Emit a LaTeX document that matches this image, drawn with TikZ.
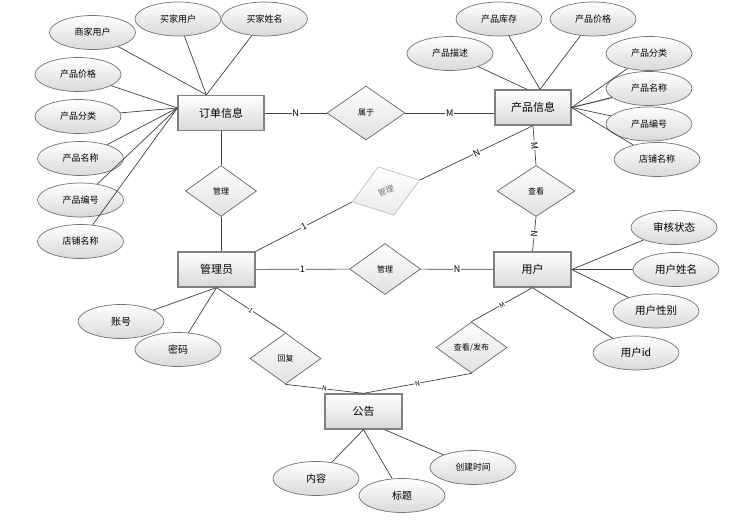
\documentclass[tikz,border=0pt]{standalone}
\usepackage{fontspec}
\setmainfont{Noto Sans CJK SC}
\usetikzlibrary{shapes.geometric,calc}

\begin{document}
\begin{tikzpicture}[x=1pt, y=-1pt,
	entity/.style={draw=black!50, line width=1.3pt, top color=white, bottom color=black!15,
		minimum width=77pt, minimum height=35pt, inner sep=0pt, font=\fontsize{11}{13}\selectfont},
	attr/.style={ellipse, draw=black!55, line width=0.7pt, top color=white, bottom color=black!15,
		minimum width=86pt, minimum height=34pt, inner sep=0pt, font=\fontsize{9}{11}\selectfont},
	rel/.style={diamond, draw=black!60, line width=0.7pt, top color=white, bottom color=black!12,
		minimum width=71pt, minimum height=51pt, inner sep=0pt, font=\fontsize{8}{10}\selectfont},
	link/.style={draw=black!75, line width=0.7pt},
	card/.style={fill=white, inner sep=0.8pt, font=\fontsize{9}{10}\selectfont},
	tinycard/.style={fill=white, inner sep=0.5pt, font=\fontsize{6.5}{7}\selectfont}]

\useasboundingbox (0,0) rectangle (750,522);

% entities
\node[entity, minimum width=86pt] (order) at (221,113) {订单信息};
\node[entity, minimum width=76pt] (product) at (533,107.5) {产品信息};
\node[entity] (admin) at (216.5,269.5) {管理员};
\node[entity] (user) at (532.5,269.5) {用户};
\node[entity] (notice) at (363.5,411.5) {公告};

% relations
\node[rel, minimum width=78pt, minimum height=54pt] (belong) at (366,113) {属于};
\node[rel] (manage) at (221,191) {管理};
\node[rel, minimum width=78pt] (view) at (536,191) {查看};
\node[rel] (manageuser) at (385,269) {管理};
\node[rel] (reply) at (285.5,358.5) {回复};
\node[rel] (publish) at (471.5,347.5) {查看/发布};
\node[rel, draw=black!25, top color=white, bottom color=black!8, text=black!55, rotate=18]
	(manageproduct) at (386,191) {管理};

% order attributes
\node[attr] (seller) at (92.5,32.5) {商家用户};
\node[attr] (buyer) at (178,19) {买家用户};
\node[attr] (buyername) at (264.5,19) {买家姓名};
\node[attr] (oprice) at (78,74.5) {产品价格};
\node[attr] (ocat) at (78,116.5) {产品分类};
\node[attr] (oname) at (80.5,158.5) {产品名称};
\node[attr] (onum) at (80.5,200) {产品编号};
\node[attr] (oshop) at (80.5,241.5) {店铺名称};

% product attributes
\node[attr] (pstock) at (499,19) {产品库存};
\node[attr] (pprice) at (593,19) {产品价格};
\node[attr] (pdesc) at (450,53.5) {产品描述};
\node[attr] (pcat) at (649,53.5) {产品分类};
\node[attr] (pname) at (649,88.5) {产品名称};
\node[attr] (pnum) at (649,124) {产品编号};
\node[attr] (pshop) at (657,159.5) {店铺名称};

% user attributes
\node[attr, font=\fontsize{10.5}{12}\selectfont] (ustate) at (674,227.5) {审核状态};
\node[attr, font=\fontsize{10.5}{12}\selectfont] (uname) at (676,269.5) {用户姓名};
\node[attr, font=\fontsize{10.5}{12}\selectfont] (usex) at (656,311) {用户性别};
\node[attr, font=\fontsize{10.5}{12}\selectfont] (uid) at (636,353) {用户id};

% admin and notice attributes
\node[attr, font=\fontsize{10}{12}\selectfont] (account) at (121,321.5) {账号};
\node[attr, font=\fontsize{10}{12}\selectfont] (password) at (178,349.5) {密码};
\node[attr, font=\fontsize{10}{12}\selectfont] (content) at (316,478.5) {内容};
\node[attr, font=\fontsize{10}{12}\selectfont] (title) at (402,495.5) {标题};
\node[attr, font=\fontsize{8.75}{10}\selectfont] (ctime) at (473,467.5) {创建时间};

% meeting points
\coordinate (ordertop) at ($(order.north west)+(29,0)$);
\coordinate (orderleft) at ($(order.west)+(0,-5)$);
\coordinate (prodtop) at ($(product.north)+(7,0)$);
\coordinate (proddesc) at ($(product.north)+(-6,0)$);
\coordinate (noticeright) at ($(notice.south)+(21,0)$);

% attribute links
\foreach \a in {seller,buyer,buyername}
	\draw[link] (\a) -- (ordertop);
\foreach \a in {oprice,ocat,oname,onum,oshop}
	\draw[link] (\a) -- (orderleft);
\foreach \a in {pstock,pprice}
	\draw[link] (\a) -- (prodtop);
\draw[link] (pdesc) -- (proddesc);
\foreach \a in {pcat,pnum,pshop}
	\draw[link] (\a) -- (product.east);
\draw[link, line width=1pt] (pname) -- (product.east);
\foreach \a in {ustate,uname,usex}
	\draw[link] (\a) -- (user.east);
\draw[link] (uid) -- (user.south);
\foreach \a in {account,password}
	\draw[link] (\a) -- (admin.south);
\foreach \a in {content,title}
	\draw[link] (\a) -- (notice.south);
\draw[link] (ctime) -- (noticeright);

% relation links
\draw[link] (order) -- node[card] {N} (belong);
\draw[link] (belong) -- node[card] {M} ($(product.west)+(0,5.5)$);
\draw[link] (order) -- (manage);
\draw[link] (manage.south) -- (manage.south |- admin.north);
\draw[link] (admin.north east) -- node[card, sloped] {1} (manageproduct.west);
\draw[link] (manageproduct.east) -- node[card, sloped] {N} (product.south);
\draw[link] (product.south) -- node[card, sloped] {M} (view.north);
\draw[link] (view.south) -- node[card, sloped] {N} (user.north);
\draw[link] (admin) -- node[card] {1} (manageuser);
\draw[link] (manageuser) -- node[card] {N} (user);
\draw[link] (admin.south) -- node[tinycard, sloped] {1} (reply.north);
\draw[link] (reply.south) -- node[tinycard, sloped] {N} (notice.north);
\draw[link] (user.south) -- node[tinycard, sloped] {M} (publish.north);
\draw[link] (publish.south) -- node[tinycard, sloped] {N} (notice.north);
\end{tikzpicture}
\end{document}
